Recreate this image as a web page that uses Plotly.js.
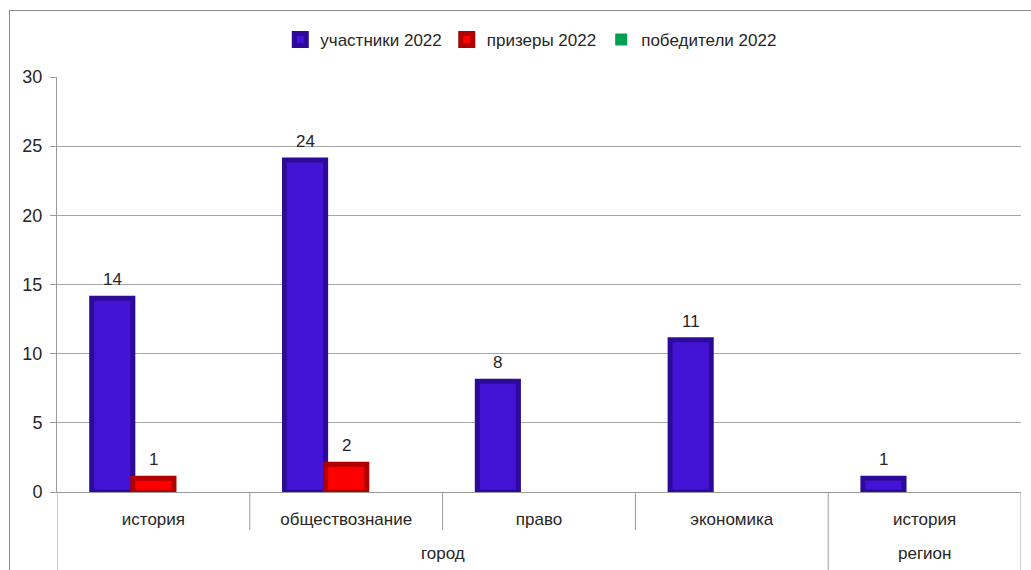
<!DOCTYPE html>
<html>
<head>
<meta charset="utf-8">
<script src="https://cdn.plot.ly/plotly-3.0.1.min.js"></script>
<style>
  html, body { margin: 0; padding: 0; background: #ffffff; }
  #wrap { position: relative; width: 1031px; height: 570px; overflow: hidden; }
  #chart { position: absolute; left: 0; top: 0; width: 1031px; height: 570px; }
  #frame { position: absolute; left: 9px; top: 10px; right: -2px; bottom: -2px;
           border-left: 1px solid #8c8c8c; border-top: 1px solid #8c8c8c; pointer-events: none; }
</style>
</head>
<body>
<div id="wrap">
  <div id="chart"></div>
  <div id="frame"></div>
</div>
<script>
// ---- data ----
const groups = ["город", "город", "город", "город", "регион"];
const subjects = ["история", "обществознание", "право", "экономика", "история"];
const seriesNames = ["участники 2022", "призеры 2022", "победители 2022"];
const participants = [14, 24, 8, 11, 1];
const prizewinners = [1, 2, 0, 0, 0];
const winners = [0, 0, 0, 0, 0];

const seriesValues = [participants, prizewinners, winners];
const faceColors = ["#4414d6", "#ff0000", "#00a050"];
const edgeColors = ["#2c0b98", "#b00000", "#006a34"];

const fontFam = "Liberation Sans, Arial, sans-serif";
const txtColor = "#262626";
const lineGray = "#9a9a9a";

const xPos = subjects.map((_, i) => i);
const nSeries = seriesValues.length;
const barGap = 0.36;
const barW = (1 - barGap) / nSeries;

const traces = seriesValues.map((vals, i) => ({
  type: "bar",
  name: seriesNames[i],
  x: xPos,
  y: vals,
  marker: {
    color: faceColors[i],
    line: { color: edgeColors[i], width: vals.map(v => (v > 0 ? 5 : 0)) }
  },
  hoverinfo: "y+name"
}));

// value labels above the non-zero bars
const annotations = [];
seriesValues.forEach((vals, s) => {
  vals.forEach((v, i) => {
    if (v > 0) {
      annotations.push({
        xref: "x", yref: "y",
        x: i + (s - (nSeries - 1) / 2) * barW, y: v,
        text: String(v), showarrow: false,
        xanchor: "center", yanchor: "bottom", yshift: 7,
        font: { family: fontFam, size: 17, color: txtColor }
      });
    }
  });
});

// divider lines under the axis (category boundaries and group boundaries)
const shapes = [];
const subLineBottom = -0.092;
const groupLineBottom = -0.2;
for (let i = 0; i <= subjects.length; i++) {
  const isGroupEdge = (i === 0 || i === subjects.length || groups[i] !== groups[i - 1]);
  shapes.push({
    type: "line", xref: "x", yref: "paper",
    x0: i - 0.5, x1: i - 0.5, y0: 0, y1: isGroupEdge ? groupLineBottom : subLineBottom,
    line: { color: lineGray, width: 1 }
  });
}
// group labels
let start = 0;
for (let i = 1; i <= groups.length; i++) {
  if (i === groups.length || groups[i] !== groups[start]) {
    annotations.push({
      xref: "x", yref: "paper",
      x: (start + i - 1) / 2, y: -0.147,
      text: groups[start], showarrow: false,
      xanchor: "center", yanchor: "middle",
      font: { family: fontFam, size: 17, color: txtColor }
    });
    start = i;
  }
}

const layout = {
  width: 1031,
  height: 570,
  margin: { l: 57, r: 10, t: 77, b: 78 },
  paper_bgcolor: "#ffffff",
  plot_bgcolor: "#ffffff",
  font: { family: fontFam, size: 17, color: txtColor },
  barmode: "group",
  bargap: barGap,
  bargroupgap: 0,
  showlegend: true,
  legend: {
    orientation: "h",
    x: 0.492, xanchor: "center",
    y: 1.089, yanchor: "middle",
    font: { family: fontFam, size: 17, color: txtColor },
    itemwidth: 30,
    traceorder: "normal"
  },
  xaxis: {
    range: [-0.5, subjects.length - 0.5],
    tickmode: "array",
    tickvals: xPos,
    ticktext: subjects,
    showline: true,
    linecolor: lineGray,
    linewidth: 1,
    ticks: "",
    ticklabelstandoff: 12,
    tickfont: { family: fontFam, size: 17, color: txtColor },
    showgrid: false,
    zeroline: false,
    fixedrange: true
  },
  yaxis: {
    range: [0, 30],
    dtick: 5,
    showgrid: true,
    gridcolor: "#a6a6a6",
    gridwidth: 1,
    showline: true,
    linecolor: lineGray,
    ticks: "outside",
    ticklen: 6,
    tickcolor: lineGray,
    ticklabelstandoff: 4,
    zeroline: false,
    tickfont: { family: fontFam, size: 18, color: txtColor }
  },
  shapes: shapes,
  annotations: annotations
};

Plotly.newPlot("chart", traces, layout, { displayModeBar: false, staticPlot: true });
</script>
</body>
</html>
